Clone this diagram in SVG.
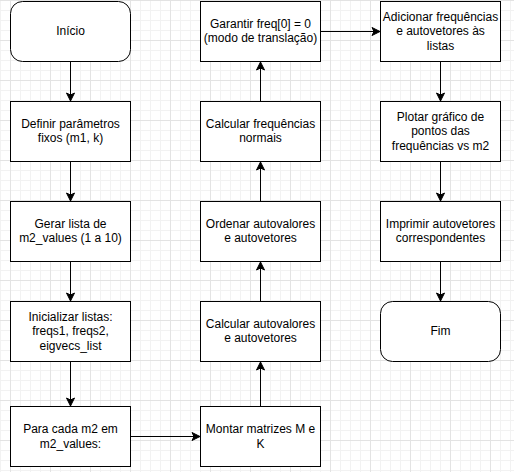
<svg xmlns="http://www.w3.org/2000/svg" width="514" height="472" viewBox="0 0 514 472">
<style>
.box{fill:#fff;stroke:#000;stroke-width:1}
.t{font-family:"Liberation Sans",Arial,sans-serif;font-size:12px;fill:#000;text-anchor:middle}
.c{fill:none;stroke:#000;stroke-width:1;marker-end:url(#arr)}
</style>
<defs>
<pattern id="minor" width="10" height="10" patternUnits="userSpaceOnUse">
<path d="M0.5 0V10M0 0.5H10" stroke="#f2f2f2" stroke-width="1" fill="none"/>
</pattern>
<pattern id="major" x="10" y="0" width="40" height="40" patternUnits="userSpaceOnUse">
<path d="M0.5 0V40M0 0.5H40" stroke="#e3e3e3" stroke-width="1" fill="none"/>
</pattern>
<marker id="arr" markerUnits="userSpaceOnUse" markerWidth="12" markerHeight="12" viewBox="-10 -6 12 12" refX="0" refY="0" orient="auto">
<path d="M0,0 L-8,-4 L-6,0 L-8,4 Z" fill="#000" stroke="#000" stroke-width="1"/>
</marker>
</defs>
<rect width="514" height="472" fill="#fff"/>
<rect width="514" height="472" fill="url(#minor)"/>
<rect width="514" height="472" fill="url(#major)"/>

<g id="connectors">
<path class="c" d="M70.5 61.5V101"/>
<path class="c" d="M70.5 161.5V201"/>
<path class="c" d="M70.5 261.5V301"/>
<path class="c" d="M70.5 361.5V406"/>
<path class="c" d="M130.5 436.5H200"/>
<path class="c" d="M260.5 406.5V362"/>
<path class="c" d="M260.5 301.5V262"/>
<path class="c" d="M260.5 201.5V162"/>
<path class="c" d="M260.5 101.5V62"/>
<path class="c" d="M320.5 31.5H380"/>
<path class="c" d="M440.5 61.5V101"/>
<path class="c" d="M440.5 161.5V201"/>
<path class="c" d="M440.5 261.5V301"/>
</g>

<g id="inicio"><rect class="box" x="10.5" y="1.5" width="120" height="60" rx="12"/><text class="t" x="70.5" y="35">Início</text></g>
<g id="definir"><rect class="box" x="10.5" y="101.5" width="120" height="60"/><text class="t" x="70.5" y="128">Definir parâmetros</text><text class="t" x="70.5" y="142">fixos (m1, k)</text></g>
<g id="gerar"><rect class="box" x="10.5" y="201.5" width="120" height="60"/><text class="t" x="70.5" y="228">Gerar lista de</text><text class="t" x="70.5" y="242">m2_values (1 a 10)</text></g>
<g id="inicializar"><rect class="box" x="10.5" y="301.5" width="120" height="60"/><text class="t" x="70.5" y="321">Inicializar listas:</text><text class="t" x="70.5" y="335">freqs1, freqs2,</text><text class="t" x="70.5" y="350">eigvecs_list</text></g>
<g id="para"><rect class="box" x="10.5" y="406.5" width="120" height="60"/><text class="t" x="70.5" y="433">Para cada m2 em</text><text class="t" x="70.5" y="448">m2_values:</text></g>

<g id="montar"><rect class="box" x="200.5" y="406.5" width="120" height="60"/><text class="t" x="260.5" y="433">Montar matrizes M e</text><text class="t" x="260.5" y="448">K</text></g>
<g id="calcautoval"><rect class="box" x="200.5" y="301.5" width="120" height="60"/><text class="t" x="260.5" y="328">Calcular autovalores</text><text class="t" x="260.5" y="342">e autovetores</text></g>
<g id="ordenar"><rect class="box" x="200.5" y="201.5" width="120" height="60"/><text class="t" x="260.5" y="228">Ordenar autovalores</text><text class="t" x="260.5" y="242">e autovetores</text></g>
<g id="calcfreq"><rect class="box" x="200.5" y="101.5" width="120" height="60"/><text class="t" x="260.5" y="128">Calcular frequências</text><text class="t" x="260.5" y="142">normais</text></g>
<g id="garantir"><rect class="box" x="200.5" y="1.5" width="120" height="60"/><text class="t" x="260.5" y="28">Garantir freq[0] = 0</text><text class="t" x="260.5" y="42">(modo de translação)</text></g>

<g id="adicionar"><rect class="box" x="380.5" y="1.5" width="120" height="60"/><text class="t" x="440.5" y="21">Adicionar frequências</text><text class="t" x="440.5" y="35">e autovetores às</text><text class="t" x="440.5" y="50">listas</text></g>
<g id="plotar"><rect class="box" x="380.5" y="101.5" width="120" height="60"/><text class="t" x="440.5" y="121">Plotar gráfico de</text><text class="t" x="440.5" y="135">pontos das</text><text class="t" x="440.5" y="150">frequências vs m2</text></g>
<g id="imprimir"><rect class="box" x="380.5" y="201.5" width="120" height="60"/><text class="t" x="440.5" y="228">Imprimir autovetores</text><text class="t" x="440.5" y="242">correspondentes</text></g>
<g id="fim"><rect class="box" x="380.5" y="301.5" width="120" height="60" rx="12"/><text class="t" x="440.5" y="335">Fim</text></g>
</svg>
